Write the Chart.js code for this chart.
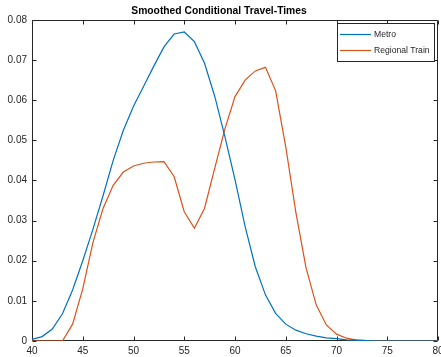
<!DOCTYPE html>
<html>
<head>
<meta charset="utf-8">
<script src="https://cdn.jsdelivr.net/npm/chart.js@4/dist/chart.umd.min.js"></script>
<style>
html,body{margin:0;padding:0;background:#fff;}
canvas{display:block;}
</style>
</head>
<body>
<canvas id="c" width="441" height="357"></canvas>
<script>
const xValues = [40,41,42,43,44,45,46,47,48,49,50,51,52,53,54,55,56,57,58,59,60,61,62,63,64,65,66,67,68,69,70,71,72,73,74,75,76,77,78,79,80];
const metro = [0.0004,0.0011,0.003,0.0068,0.0127,0.020,0.0278,0.0362,0.045,0.0525,0.0585,0.0635,0.0685,0.0733,0.0765,0.077,0.0746,0.0692,0.061,0.051,0.0402,0.0285,0.0185,0.0115,0.0069,0.0042,0.0027,0.0018,0.0012,0.0008,0.0006,0.0003,0.0002,0.0001,0,0,0,0,0,0,0];
const regionalTrain = [0,0,0,0,0.0042,0.013,0.0245,0.033,0.0388,0.0421,0.0436,0.0443,0.0446,0.0447,0.041,0.0322,0.0281,0.0331,0.043,0.0528,0.0609,0.065,0.0673,0.0682,0.0624,0.0484,0.032,0.0182,0.009,0.004,0.0017,0.0007,0.0002,0.0001,0,0,0,0,0,0,0];
const xTicks = [40,45,50,55,60,65,70,75,80];
const yTicks = [0,0.01,0.02,0.03,0.04,0.05,0.06,0.07,0.08];
const seriesNames = ['Metro','Regional Train'];
const titleText = 'Smoothed Conditional Travel-Times';

const FONT = '"Liberation Sans", Arial, Helvetica, sans-serif';
const AX = '#262626';

const boxPlugin = {
  id: 'boxTicks',
  beforeDatasetsDraw(chart) {
    const {ctx, chartArea: a, scales} = chart;
    ctx.save();
    ctx.strokeStyle = AX;
    ctx.lineWidth = 1;
    ctx.beginPath();
    const L = Math.round(a.left)+0.5, R = Math.round(a.right)-0.5, T = Math.round(a.top)+0.5, B = Math.round(a.bottom)-0.5;
    ctx.rect(L, T, R-L, B-T);
    const tl = 4;
    xTicks.forEach(v => {
      const px = Math.round(scales.x.getPixelForValue(v)) + 0.5;
      ctx.moveTo(px, B); ctx.lineTo(px, B - tl);
      ctx.moveTo(px, T); ctx.lineTo(px, T + tl);
    });
    yTicks.forEach(v => {
      const py = Math.round(scales.y.getPixelForValue(v)) + 0.5;
      ctx.moveTo(L, py); ctx.lineTo(L + tl, py);
      ctx.moveTo(R, py); ctx.lineTo(R - tl, py);
    });
    ctx.stroke();
    ctx.restore();
  },
  afterDraw(chart) {
    const {ctx, chartArea: a} = chart;
    const w = 98, h = 39;
    const x0 = Math.round(a.right) - 3 - w, y0 = Math.round(a.top) + 3;
    ctx.save();
    ctx.fillStyle = '#fff';
    ctx.fillRect(x0, y0, w, h);
    ctx.strokeStyle = AX;
    ctx.lineWidth = 1;
    ctx.strokeRect(x0 + 0.5, y0 + 0.5, w - 1, h - 1);
    ctx.font = '8.6px ' + FONT;
    ctx.textBaseline = 'middle';
    ctx.textAlign = 'left';
    chart.data.datasets.forEach((ds, i) => {
      const yy = y0 + 11.5 + i * 16;
      ctx.strokeStyle = ds.borderColor;
      ctx.lineWidth = 1.2;
      ctx.beginPath();
      ctx.moveTo(x0 + 3, yy); ctx.lineTo(x0 + 34, yy);
      ctx.stroke();
      ctx.fillStyle = AX;
      ctx.fillText(ds.label, x0 + 37, yy);
    });
    ctx.restore();
  }
};

new Chart(document.getElementById('c'), {
  type: 'line',
  data: {
    datasets: [
      { label: seriesNames[0], data: xValues.map((x,i)=>({x, y: metro[i]})), borderColor: '#0072BD', borderWidth: 1.2, pointRadius: 0, tension: 0, fill: false },
      { label: seriesNames[1], data: xValues.map((x,i)=>({x, y: regionalTrain[i]})), borderColor: '#D95319', borderWidth: 1.2, pointRadius: 0, tension: 0, fill: false }
    ]
  },
  options: {
    responsive: false,
    animation: false,
    devicePixelRatio: 1,
    layout: { padding: { left: 0, right: 3, top: 0, bottom: 0 } },
    plugins: {
      legend: { display: false },
      tooltip: { enabled: false },
      title: {
        display: true, text: titleText, color: '#000',
        font: { family: FONT, size: 10.3, weight: 'bold', lineHeight: 1.2 },
        padding: { top: 4.5, bottom: 3.1 }
      }
    },
    scales: {
      x: {
        type: 'linear', min: 40, max: 80,
        afterBuildTicks: s => { s.ticks = xTicks.map(v => ({value: v})); },
        afterFit: s => { s.height = 16; s.paddingLeft = 0; s.paddingRight = 0; },
        grid: { display: false, drawTicks: false },
        border: { display: false },
        ticks: { color: AX, padding: 4, maxRotation: 0, autoSkip: false, font: { family: FONT, size: 10 } }
      },
      y: {
        type: 'linear', min: 0, max: 0.08,
        afterBuildTicks: s => { s.ticks = yTicks.map(v => ({value: v})); },
        afterFit: s => { s.width = 32; s.paddingTop = 0; s.paddingBottom = 0; },
        grid: { display: false, drawTicks: false },
        border: { display: false },
        ticks: { color: AX, padding: 5, autoSkip: false, font: { family: FONT, size: 10 },
          callback: v => String(Math.round(v*100)/100) }
      }
    }
  },
  plugins: [boxPlugin]
});
</script>
</body>
</html>
